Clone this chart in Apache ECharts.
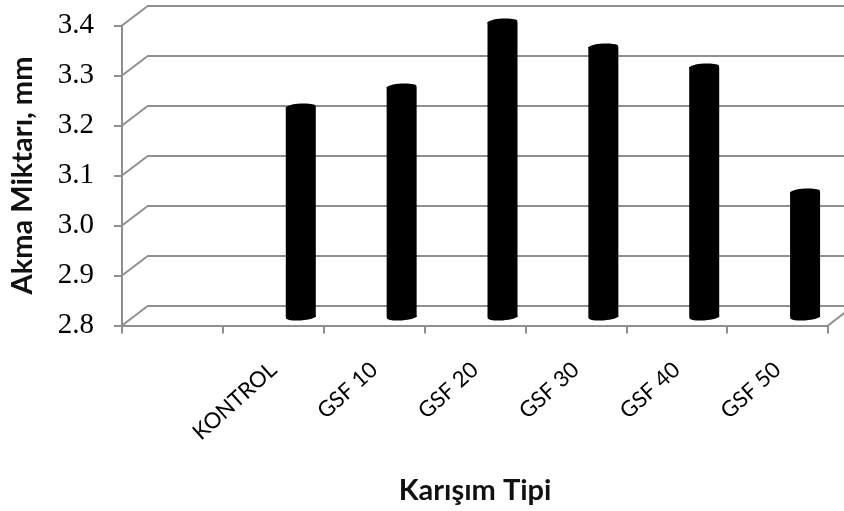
<!DOCTYPE html>
<html><head><meta charset="utf-8">
<style>html,body{margin:0;padding:0;background:#fff}#c{width:844px;height:511px}</style>
<script src="https://cdn.jsdelivr.net/npm/echarts@6/dist/echarts.min.js"></script>
</head><body><div id="c"></div>
<script>
const categories = ['', 'KONTROL', 'GSF 10', 'GSF 20', 'GSF 30', 'GSF 40', 'GSF 50'];
const values = [null, 3.22, 3.26, 3.39, 3.34, 3.30, 3.05];
const yTicks = [2.8, 2.9, 3.0, 3.1, 3.2, 3.3, 3.4];
const xTitle = 'Karışım Tipi';
const yTitle = 'Akma Miktarı, mm';

const GRAY = '#8f8f8f';
const DEPTH_X = 25, DEPTH_Y = 19;
const BAR_SHIFT_X = 27.5;
const PLOT_W = 706, PLOT_H = 300;
const yScale = {type:'value', min:2.8, max:3.4, interval:0.1};

const chart = echarts.init(document.getElementById('c'), null, {renderer:'canvas'});
chart.setOption({
  animation:false,
  backgroundColor:'#fff',
  grid:[
    {left:147, top:6, right:0, height:PLOT_H, outerBoundsMode:'none'},
    {left:122, top:25.5, width:PLOT_W, height:PLOT_H, outerBoundsMode:'none'},
    {left:122, top:17, width:PLOT_W, height:PLOT_H, outerBoundsMode:'none'}
  ],
  xAxis:[
    {gridIndex:0, type:'category', data:categories, show:false},
    {gridIndex:1, type:'category', data:categories,
      axisLine:{lineStyle:{color:GRAY,width:2}},
      axisTick:{show:true,alignWithLabel:false,length:8,lineStyle:{color:GRAY,width:2}},
      axisLabel:{interval:0,rotate:42,margin:41,color:'#000',fontFamily:'Lato',fontSize:22},
      name:xTitle,nameLocation:'middle',nameGap:151,
      nameTextStyle:{color:'#111',fontFamily:'Lato',fontWeight:'bold',fontSize:29}},
    {gridIndex:2, type:'category', data:categories, show:false}
  ],
  yAxis:[
    {gridIndex:0, ...yScale, axisLine:{show:false}, axisTick:{show:false}, axisLabel:{show:false},
      splitLine:{show:true,lineStyle:{color:GRAY,width:2}}},
    {gridIndex:1, ...yScale,
      axisLine:{show:true,lineStyle:{color:GRAY,width:2}},
      axisTick:{show:true,length:8,lineStyle:{color:GRAY,width:2}},
      axisLabel:{margin:28,color:'#000',fontFamily:'Liberation Serif',fontSize:29,
        formatter:v=>v.toFixed(1)},
      splitLine:{show:false},
      name:yTitle,nameLocation:'middle',nameGap:85,nameRotate:90,
      nameTextStyle:{color:'#111',fontFamily:'Lato',fontWeight:'bold',fontSize:29}},
    {gridIndex:2, ...yScale, show:false}
  ],
  series:[
    {type:'custom', xAxisIndex:1, yAxisIndex:1, silent:true, z:1,
      data:yTicks.map(v=>[0,v]),
      clip:false,
      renderItem(params,api){
        const s = params.coordSys;
        const y = api.coord([0,api.value(1)])[1];
        return {type:'line',shape:{x1:s.x,y1:y,x2:s.x+DEPTH_X,y2:y-DEPTH_Y},
          style:{stroke:GRAY,lineWidth:2,fill:null}};
      }},
    {type:'custom', xAxisIndex:1, yAxisIndex:1, silent:true, z:1,
      data:[[6,2.8]],
      clip:false,
      renderItem(params,api){
        const s = params.coordSys;
        const y = api.coord([0,2.8])[1];
        return {type:'line',shape:{x1:s.x+s.width,y1:y,x2:s.x+s.width+DEPTH_X,y2:y-DEPTH_Y},
          style:{stroke:GRAY,lineWidth:2,fill:null}};
      }},
    {type:'custom', xAxisIndex:2, yAxisIndex:2, silent:true, z:5, clip:false,
      data:categories.map((c,i)=>[i,values[i]]),
      renderItem(params,api){
        const v = api.value(1);
        if (isNaN(v)) return;
        const top = api.coord([api.value(0),v]);
        const bot = api.coord([api.value(0),2.8]);
        const cx = top[0] + BAR_SHIFT_X;
        const rx = 15, ry = 3.4;
        const fill = {fill:'#000'};
        return {type:'group',children:[
          {type:'rect',shape:{x:cx-rx,y:top[1],width:2*rx,height:bot[1]-top[1]},style:fill},
          {type:'ellipse',shape:{cx:0,cy:0,rx:rx,ry:ry},x:cx,y:top[1],rotation:0.06,style:fill},
          {type:'ellipse',shape:{cx:0,cy:0,rx:rx,ry:ry},x:cx,y:bot[1],rotation:0.06,style:fill}
        ]};
      }}
  ]
});
</script></body></html>
